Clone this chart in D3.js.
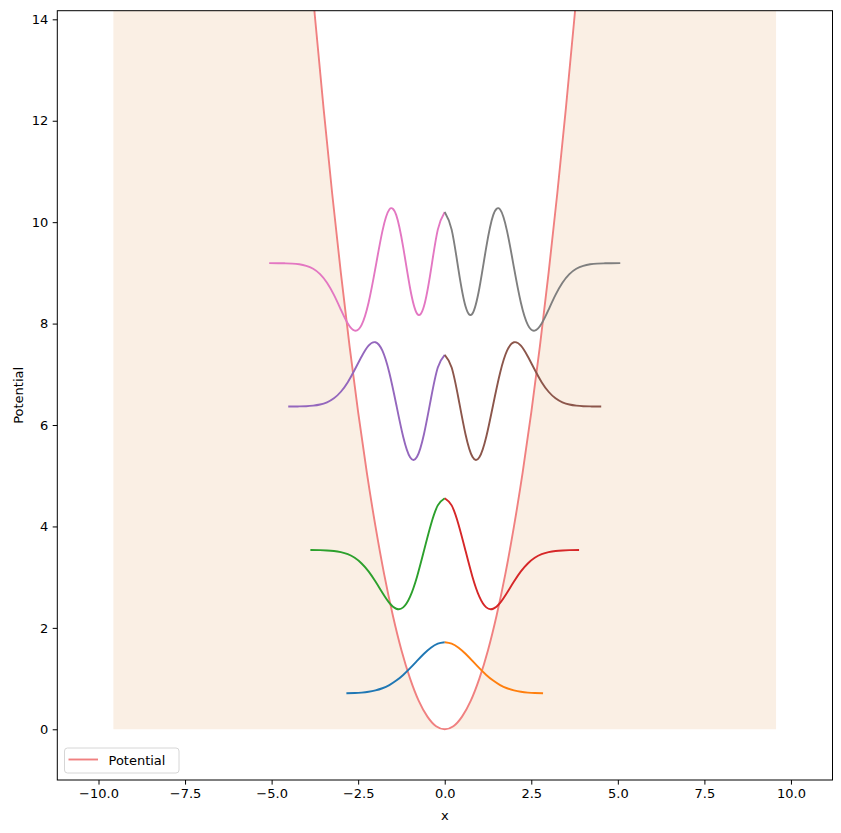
<!DOCTYPE html>
<html>
<head>
<meta charset="utf-8">
<script src="https://cdn.jsdelivr.net/npm/d3@7"></script>
<style>
  html, body { margin: 0; padding: 0; background: #fff; }
  svg { display: block; font-family: "DejaVu Sans", sans-serif; }
</style>
</head>
<body>
<div id="chart"></div>
<script>
// Potential V(x) (plus the far ends of the shaded band)
const potX = [-9.57, -4, -3.75, -3.5, -3.25, -3, -2.75, -2.5, -2.25, -2, -1.75, -1.5, -1.25, -1, -0.75, -0.5, -0.25, 0,
  0.25, 0.5, 0.75, 1, 1.25, 1.5, 1.75, 2, 2.25, 2.5, 2.75, 3, 3.25, 3.5, 3.75, 4, 9.57];
const potV = [91.6, 16, 14.06, 12.25, 10.56, 9, 7.56, 6.25, 5.06, 4, 3.06, 2.25, 1.56, 1, 0.56, 0.25, 0.06, 0,
  0.06, 0.25, 0.56, 1, 1.56, 2.25, 3.06, 4, 5.06, 6.25, 7.56, 9, 10.56, 12.25, 14.06, 16, 91.6];

// energy levels (baselines) and half-widths of each drawn wavefunction
const levels = [0.707, 3.536, 6.364, 9.192];
const extents = [2.84, 3.88, 4.52, 5.07];
// sample positions for the half profile (last sample sits at the extent)
const gridX = [0, 0.2, 0.4, 0.6, 0.8, 1.0, 1.2, 1.4, 1.6, 1.8, 2.0, 2.2, 2.4, 2.6, 2.8, 3.0, 3.2, 3.4, 3.6, 3.8, 4.0, 4.2, 4.4, 4.6, 4.8];

// offsets above the baseline, from x = 0 outward (symmetric states)
const wave0 = [1.01, 0.982, 0.902, 0.783, 0.642, 0.498, 0.365, 0.253, 0.165, 0.102, 0.060, 0.033, 0.017, 0.008, 0.003];
const wave2 = [1.02, 0.879, 0.499, -0.014, -0.526, -0.920, -1.132, -1.159, -1.042, -0.842, -0.622, -0.422, -0.266,
  -0.155, -0.084, -0.043, -0.020, -0.009, -0.004, -0.001];
const wave4 = [1.02, 0.771, 0.149, -0.546, -0.991, -1.001, -0.596, 0.040, 0.667, 1.101, 1.268, 1.201, 0.988,
  0.725, 0.481, 0.292, 0.163, 0.084, 0.040, 0.018, 0.007, 0.003, 0.001, 0];
const wave6 = [1.01, 0.661, -0.143, -0.852, -0.995, -0.495, 0.316, 0.946, 1.057, 0.632, -0.089, -0.781, -1.217,
  -1.330, -1.190, -0.917, -0.627, -0.387, -0.217, -0.111, -0.053, -0.023, -0.009, -0.004, -0.001, 0];

const leftColors = ['#1f77b4', '#2ca02c', '#9467bd', '#e377c2'];
const rightColors = ['#ff7f0e', '#d62728', '#8c564b', '#7f7f7f'];

const xTicks = [-10, -7.5, -5, -2.5, 0, 2.5, 5, 7.5, 10];
const yTicks = [0, 2, 4, 6, 8, 10, 12, 14];

const width = 841, height = 833;
const plot = { left: 57.3, right: 832.5, top: 10.7, bottom: 780 };

const svg = d3.select('#chart').append('svg')
  .attr('width', width).attr('height', height);

const x = d3.scaleLinear().domain([-11.19, 11.2]).range([plot.left, plot.right]);
const y = d3.scaleLinear().domain([-1.0, 14.17]).range([plot.bottom, plot.top]);

svg.append('defs').append('clipPath').attr('id', 'clip')
  .append('rect')
  .attr('x', plot.left).attr('y', plot.top)
  .attr('width', plot.right - plot.left).attr('height', plot.bottom - plot.top);

const g = svg.append('g').attr('clip-path', 'url(#clip)');

const potPts = potX.map((d, i) => ({ x: d, v: potV[i] }));

// shaded region between 0 and the potential
g.append('path')
  .datum(potPts)
  .attr('d', d3.area().x(d => x(d.x)).y0(y(0)).y1(d => y(d.v)).curve(d3.curveMonotoneX))
  .attr('fill', '#faefe4');

// potential curve
g.append('path')
  .datum(potPts)
  .attr('d', d3.line().x(d => x(d.x)).y(d => y(d.v)).curve(d3.curveMonotoneX))
  .attr('fill', 'none')
  .attr('stroke', '#f08080')
  .attr('stroke-width', 1.9);

// wavefunctions, each drawn as left and right half
const waves = [wave0, wave2, wave4, wave6];
const line = d3.line().x(d => x(d.x)).y(d => y(d.y)).curve(d3.curveNatural);

waves.forEach((w, k) => {
  const half = w.map((v, i) => ({
    x: i === w.length - 1 ? extents[k] : gridX[i],
    off: v
  }));
  const right = half.map(p => ({ x: p.x, y: levels[k] + p.off }));
  const left = half.map(p => ({ x: -p.x, y: levels[k] + p.off })).reverse();

  g.append('path').datum(left)
    .attr('d', line)
    .attr('fill', 'none')
    .attr('stroke', leftColors[k])
    .attr('stroke-width', 1.9);
  g.append('path').datum(right)
    .attr('d', line)
    .attr('fill', 'none')
    .attr('stroke', rightColors[k])
    .attr('stroke-width', 1.9);
});

// axes
const xAxis = svg.append('g')
  .attr('transform', `translate(0,${plot.bottom})`)
  .call(d3.axisBottom(x).tickValues(xTicks).tickFormat(d3.format('.1f')).tickSize(4.6).tickPadding(4.5));
const yAxis = svg.append('g')
  .attr('transform', `translate(${plot.left},0)`)
  .call(d3.axisLeft(y).tickValues(yTicks).tickFormat(d3.format('d')).tickSize(4.6).tickPadding(4.5));

[xAxis, yAxis].forEach(a => {
  a.select('.domain').remove();
  a.selectAll('text').attr('font-size', 13).attr('fill', '#000').attr('font-family', '"DejaVu Sans", sans-serif');
  a.selectAll('line').attr('stroke', '#000').attr('stroke-width', 1);
});

svg.append('rect')
  .attr('x', plot.left).attr('y', plot.top)
  .attr('width', plot.right - plot.left).attr('height', plot.bottom - plot.top)
  .attr('fill', 'none').attr('stroke', '#000').attr('stroke-width', 1);

svg.append('text')
  .attr('x', (plot.left + plot.right) / 2).attr('y', 820)
  .attr('text-anchor', 'middle').attr('font-size', 13)
  .text('x');

svg.append('text')
  .attr('transform', `translate(22.5,${(plot.top + plot.bottom) / 2}) rotate(-90)`)
  .attr('text-anchor', 'middle').attr('font-size', 13)
  .text('Potential');

// legend
const legend = svg.append('g').attr('transform', 'translate(64.5,748)');
legend.append('rect')
  .attr('width', 114.5).attr('height', 25)
  .attr('rx', 3).attr('ry', 3)
  .attr('fill', '#fff').attr('fill-opacity', 0.8)
  .attr('stroke', '#d6d6d6').attr('stroke-width', 1);
legend.append('line')
  .attr('x1', 4).attr('x2', 33.5).attr('y1', 11.5).attr('y2', 11.5)
  .attr('stroke', '#f08080').attr('stroke-width', 1.9);
legend.append('text')
  .attr('x', 44).attr('y', 16.5)
  .attr('font-size', 13)
  .text('Potential');
</script>
</body>
</html>
